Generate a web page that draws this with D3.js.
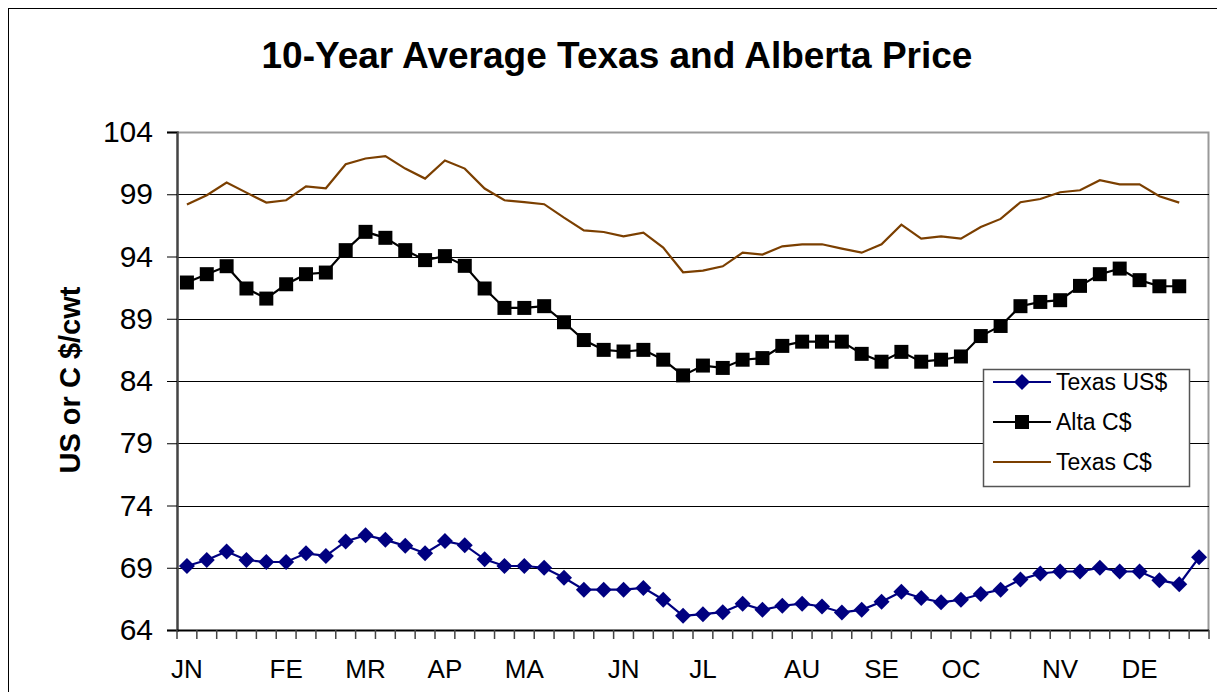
<!DOCTYPE html>
<html lang="en">
  <head>
    <meta charset="UTF-8" />
    <title>10-Year Average Texas and Alberta Price</title>
    <script src="https://d3js.org/d3.v7.min.js"></script>
    <style>
      body {
        margin: 0;
        background: white;
        font-family: 'Liberation Sans', Arial, sans-serif;
      }
      svg {
        display: block;
      }
    </style>
  </head>
  <body>
    <svg width="1217" height="692"></svg>

    <script>
      // weekly categories, month labels on the first week of each month
      const weeks = d3.range(1, 53);
      const monthLabels = ['JN', 'FE', 'MR', 'AP', 'MA', 'JN', 'JL', 'AU', 'SE', 'OC', 'NV', 'DE'];
      const monthWeeks = [1, 6, 10, 14, 18, 23, 27, 32, 36, 40, 45, 49];
      const yTicks = [64, 69, 74, 79, 84, 89, 94, 99, 104];

      const texasUS = [
        69.14, 69.62, 70.3, 69.62, 69.46, 69.46, 70.16, 69.95, 71.11, 71.62,
        71.24, 70.76, 70.16, 71.14, 70.81, 69.68, 69.14, 69.14, 69.0, 68.19,
        67.24, 67.24, 67.24, 67.38, 66.43, 65.14, 65.27, 65.43, 66.11, 65.62,
        65.95, 66.11, 65.89, 65.41, 65.62, 66.27, 67.08, 66.57, 66.22, 66.43,
        66.89, 67.24, 68.05, 68.54, 68.7, 68.7, 69.0, 68.7, 68.7, 68.0,
        67.68, 69.84,
      ];
      const altaC = [
        91.91, 92.58, 93.22, 91.43, 90.62, 91.77, 92.58, 92.71, 94.51, 95.98,
        95.5, 94.51, 93.71, 94.03, 93.25, 91.43, 89.87, 89.87, 90.01, 88.72,
        87.29, 86.5, 86.37, 86.5, 85.71, 84.45, 85.24, 85.05, 85.71, 85.84,
        86.82, 87.16, 87.16, 87.16, 86.18, 85.55, 86.34, 85.55, 85.71, 85.97,
        87.61, 88.42, 90.01, 90.35, 90.49, 91.64, 92.58, 93.03, 92.1, 91.61,
        91.61,
      ];
      const texasC = [
        98.17, 98.92, 99.94, 99.13, 98.33, 98.52, 99.64, 99.48, 101.41, 101.87,
        102.06, 101.06, 100.26, 101.71, 101.06, 99.46, 98.52, 98.36, 98.2, 97.12,
        96.1, 95.97, 95.62, 95.92, 94.71, 92.73, 92.86, 93.21, 94.31, 94.15,
        94.82, 94.98, 94.98, 94.63, 94.31, 94.98, 96.56, 95.43, 95.62, 95.43,
        96.37, 97.02, 98.36, 98.62, 99.16, 99.32, 100.13, 99.8, 99.8, 98.84,
        98.33,
      ];

      const series = [
        { name: 'Texas US$', values: texasUS, color: '#000080', marker: 'diamond' },
        { name: 'Alta C$', values: altaC, color: '#000000', marker: 'square' },
        { name: 'Texas C$', values: texasC, color: '#7b3f00', marker: null },
      ];

      const svg = d3.select('svg');
      const margin = { top: 132, right: 8, bottom: 62, left: 177 };
      const width = 1217 - margin.left - margin.right;
      const height = 692 - margin.top - margin.bottom;

      // chart area border
      svg
        .append('rect')
        .attr('x', 8.5)
        .attr('y', 8.5)
        .attr('width', 1240)
        .attr('height', 720)
        .attr('fill', 'none')
        .attr('stroke', '#000');

      svg
        .append('text')
        .attr('x', 617)
        .attr('y', 68)
        .attr('text-anchor', 'middle')
        .style('font-size', '37px')
        .style('font-weight', 'bold')
        .text('10-Year Average Texas and Alberta Price');

      const g = svg.append('g').attr('transform', `translate(${margin.left},${margin.top})`);

      const x = d3.scaleBand().domain(weeks).range([0, width]);
      const y = d3.scaleLinear().domain([64, 104]).range([height, 0]);

      // plot area frame (top and right in grey)
      g.append('path')
        .attr('d', `M0,0.5H${width - 0.5}V${height}`)
        .attr('fill', 'none')
        .attr('stroke', '#999')
        .attr('stroke-width', 2);

      // gridlines
      g.append('g')
        .selectAll('line')
        .data(yTicks.slice(1, -1))
        .join('line')
        .attr('x1', 0)
        .attr('x2', width)
        .attr('y1', (d) => Math.round(y(d)) + 0.5)
        .attr('y2', (d) => Math.round(y(d)) + 0.5)
        .attr('stroke', '#000');

      // y axis
      const yAxis = g
        .append('g')
        .call(d3.axisLeft(y).tickValues(yTicks).tickSize(10).tickPadding(14));
      yAxis.select('.domain').attr('stroke', '#444').attr('stroke-width', 2.5);
      yAxis.selectAll('.tick line').attr('stroke', '#000');
      yAxis
        .selectAll('.tick text')
        .style('font-size', '30px')
        .style('font-family', "'Liberation Sans', Arial, sans-serif")
        .attr('fill', '#000');

      // x axis: ticks at category boundaries, labels on month weeks
      const xg = g.append('g').attr('transform', `translate(0,${height})`);
      xg.append('line')
        .attr('x1', 0)
        .attr('x2', width)
        .attr('y1', 0.5)
        .attr('y2', 0.5)
        .attr('stroke', '#000')
        .attr('stroke-width', 2);
      xg.selectAll('line.tk')
        .data(weeks.concat([53]))
        .join('line')
        .attr('class', 'tk')
        .attr('x1', (d) => (d === 53 ? width : x(d)))
        .attr('x2', (d) => (d === 53 ? width : x(d)))
        .attr('y1', 0)
        .attr('y2', 9)
        .attr('stroke', '#444')
        .attr('stroke-width', 1.5);
      xg.selectAll('text')
        .data(monthWeeks)
        .join('text')
        .attr('x', (d) => x(d) + x.bandwidth() / 2)
        .attr('y', 48)
        .attr('text-anchor', 'middle')
        .style('font-size', '26px')
        .text((d, i) => monthLabels[i]);

      // y axis title
      svg
        .append('text')
        .attr('transform', 'translate(80,380) rotate(-90)')
        .attr('text-anchor', 'middle')
        .style('font-size', '29px')
        .style('font-weight', 'bold')
        .text('US or C $/cwt');

      const line = d3
        .line()
        .x((d, i) => x(weeks[i]) + x.bandwidth() / 2)
        .y((d) => y(d));

      function drawMarker(sel, type, color) {
        if (type === 'diamond') {
          sel.attr('d', 'M0,-8L8,0L0,8L-8,0Z').attr('fill', color);
        } else if (type === 'square') {
          sel.attr('d', 'M-7,-7H7V7H-7Z').attr('fill', color);
        }
      }

      series.forEach((s) => {
        g.append('path')
          .datum(s.values)
          .attr('fill', 'none')
          .attr('stroke', s.color)
          .attr('stroke-width', 2.2)
          .attr('d', line);
        if (s.marker) {
          g.append('g')
            .selectAll('path')
            .data(s.values)
            .join('path')
            .attr('transform', (d, i) => `translate(${x(weeks[i]) + x.bandwidth() / 2},${y(d)})`)
            .call(drawMarker, s.marker, s.color);
        }
      });

      // legend
      const lg = svg.append('g').attr('transform', 'translate(983,369)');
      lg.append('rect')
        .attr('x', 0.5)
        .attr('y', 0.5)
        .attr('width', 206)
        .attr('height', 117)
        .attr('fill', 'white')
        .attr('stroke', '#555')
        .attr('stroke-width', 1.5);
      series.forEach((s, i) => {
        const row = lg.append('g').attr('transform', `translate(0,${13 + i * 40})`);
        row.append('line')
          .attr('x1', 10)
          .attr('x2', 68)
          .attr('y1', 0)
          .attr('y2', 0)
          .attr('stroke', s.color)
          .attr('stroke-width', 2);
        if (s.marker) {
          row.append('path').attr('transform', 'translate(39,0)').call(drawMarker, s.marker, s.color);
        }
        row.append('text')
          .attr('x', 73)
          .attr('y', 8)
          .style('font-size', '23px')
          .text(s.name);
      });
    </script>
  </body>
</html>
